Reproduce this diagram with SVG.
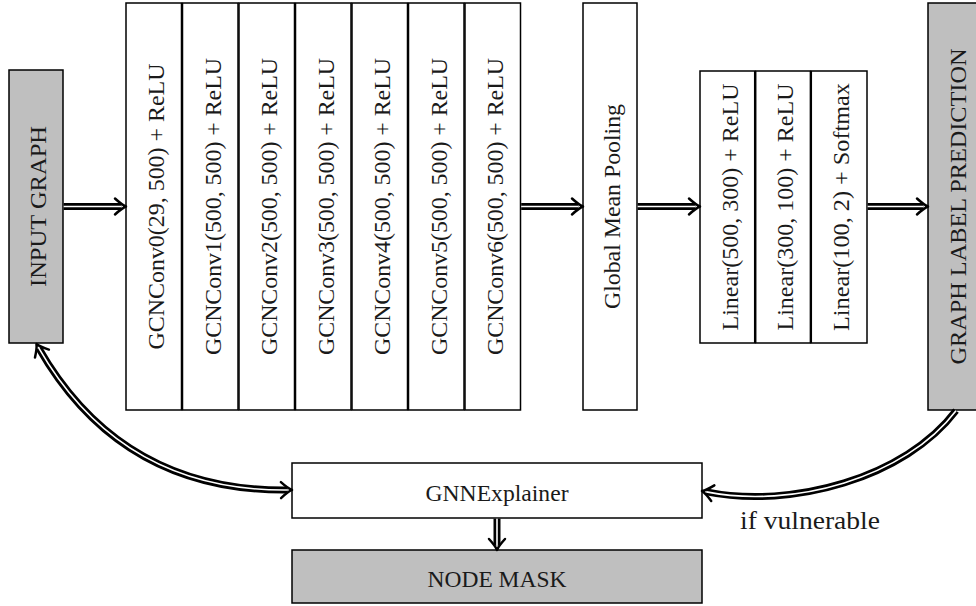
<svg xmlns="http://www.w3.org/2000/svg" width="976" height="606" viewBox="0 0 976 606">
  <style>
    .box { fill: #ffffff; stroke: #000000; stroke-width: 1.5; }
    .box.gray { fill: #bfbfbf; }
    .lbl { font-family: "Liberation Serif", "Times New Roman", serif; font-size: 24px; fill: #1a1a1a; text-anchor: middle; }
    .note { font-family: "Liberation Serif", "Times New Roman", serif; font-size: 25px; fill: #1a1a1a; }
    .dbl-outer { fill: none; stroke: #000000; stroke-width: 7; }
    .dbl-inner { fill: none; stroke: #ffffff; stroke-width: 1.6; }
    .fwd { marker-end: url(#implies); }
    .both { marker-start: url(#implies); marker-end: url(#implies); }
  </style>
  <defs>
    <!-- open "implies" style arrowhead for double lines -->
    <marker id="implies" markerUnits="userSpaceOnUse" orient="auto-start-reverse" refX="-4.5" refY="0" markerWidth="30" markerHeight="30" overflow="visible">
      <path d="M -11,-8 Q -4,-1.6 0,0 Q -4,1.6 -11,8" fill="none" stroke="#000000" stroke-width="2.5" stroke-linecap="round" stroke-linejoin="round"/>
    </marker>
  </defs>

  <!-- input -->
  <g id="input-graph">
    <rect class="box gray" x="9" y="70" width="54" height="273"/>
    <text class="lbl" transform="translate(45.5,206.5) rotate(-90)" textLength="161" lengthAdjust="spacingAndGlyphs">INPUT GRAPH</text>
  </g>

  <!-- GCN convolution stack -->
  <g id="gcnconv0">
    <rect class="box" x="126" y="3" width="55.5" height="407"/>
    <text class="lbl" transform="translate(164,206.5) rotate(-90)" textLength="286" lengthAdjust="spacingAndGlyphs">GCNConv0(29, 500) + ReLU</text>
  </g>
  <g id="gcnconv1">
    <rect class="box" x="182.5" y="3" width="55.5" height="407"/>
    <text class="lbl" transform="translate(220.5,206.5) rotate(-90)" textLength="297" lengthAdjust="spacingAndGlyphs">GCNConv1(500, 500) + ReLU</text>
  </g>
  <g id="gcnconv2">
    <rect class="box" x="239" y="3" width="55.5" height="407"/>
    <text class="lbl" transform="translate(277,206.5) rotate(-90)" textLength="297" lengthAdjust="spacingAndGlyphs">GCNConv2(500, 500) + ReLU</text>
  </g>
  <g id="gcnconv3">
    <rect class="box" x="295.5" y="3" width="55.5" height="407"/>
    <text class="lbl" transform="translate(333.5,206.5) rotate(-90)" textLength="297" lengthAdjust="spacingAndGlyphs">GCNConv3(500, 500) + ReLU</text>
  </g>
  <g id="gcnconv4">
    <rect class="box" x="352" y="3" width="55.5" height="407"/>
    <text class="lbl" transform="translate(390,206.5) rotate(-90)" textLength="297" lengthAdjust="spacingAndGlyphs">GCNConv4(500, 500) + ReLU</text>
  </g>
  <g id="gcnconv5">
    <rect class="box" x="408.5" y="3" width="55.5" height="407"/>
    <text class="lbl" transform="translate(446.5,206.5) rotate(-90)" textLength="297" lengthAdjust="spacingAndGlyphs">GCNConv5(500, 500) + ReLU</text>
  </g>
  <g id="gcnconv6">
    <rect class="box" x="465" y="3" width="55.5" height="407"/>
    <text class="lbl" transform="translate(503,206.5) rotate(-90)" textLength="297" lengthAdjust="spacingAndGlyphs">GCNConv6(500, 500) + ReLU</text>
  </g>

  <!-- pooling -->
  <g id="global-mean-pooling">
    <rect class="box" x="583" y="3" width="54" height="407"/>
    <text class="lbl" transform="translate(619.5,206.5) rotate(-90)" textLength="205" lengthAdjust="spacingAndGlyphs">Global Mean Pooling</text>
  </g>

  <!-- classifier head -->
  <g id="linear0">
    <rect class="box" x="700" y="71" width="54.7" height="272"/>
    <text class="lbl" transform="translate(737.5,207) rotate(-90)" textLength="247" lengthAdjust="spacingAndGlyphs">Linear(500, 300) + ReLU</text>
  </g>
  <g id="linear1">
    <rect class="box" x="755.7" y="71" width="54.7" height="272"/>
    <text class="lbl" transform="translate(793.2,207) rotate(-90)" textLength="247" lengthAdjust="spacingAndGlyphs">Linear(300, 100) + ReLU</text>
  </g>
  <g id="linear2">
    <rect class="box" x="811.3" y="71" width="55.7" height="272"/>
    <text class="lbl" transform="translate(848.8,207) rotate(-90)" textLength="248" lengthAdjust="spacingAndGlyphs">Linear(100, 2) + Softmax</text>
  </g>

  <!-- output -->
  <g id="graph-label-prediction">
    <rect class="box gray" x="928" y="3" width="56" height="407"/>
    <text class="lbl" transform="translate(965.5,206.5) rotate(-90)" textLength="316" lengthAdjust="spacingAndGlyphs">GRAPH LABEL PREDICTION</text>
  </g>

  <!-- explanation -->
  <g id="gnnexplainer">
    <rect class="box" x="292" y="463" width="410" height="55"/>
    <text class="lbl" x="497" y="500.5" textLength="143" lengthAdjust="spacingAndGlyphs">GNNExplainer</text>
  </g>
  <g id="node-mask">
    <rect class="box gray" x="292" y="550" width="410" height="53"/>
    <text class="lbl" x="497" y="587" textLength="139" lengthAdjust="spacingAndGlyphs">NODE MASK</text>
  </g>

  <!-- connectors: double lines with open heads -->
  <g id="connectors">
    <path class="dbl-outer fwd" d="M 63.7,206.5 H 121.5"/>
    <path class="dbl-inner" d="M 63.7,206.5 H 121.5"/>

    <path class="dbl-outer fwd" d="M 521.2,206.5 H 578.5"/>
    <path class="dbl-inner" d="M 521.2,206.5 H 578.5"/>

    <path class="dbl-outer fwd" d="M 637.7,206.5 H 695.5"/>
    <path class="dbl-inner" d="M 637.7,206.5 H 695.5"/>

    <path class="dbl-outer fwd" d="M 867.7,206.5 H 923.5"/>
    <path class="dbl-inner" d="M 867.7,206.5 H 923.5"/>

    <path class="dbl-outer fwd" d="M 497,518.7 V 545.5"/>
    <path class="dbl-inner" d="M 497,518.7 V 545.5"/>

    <path class="dbl-outer both" d="M 38.7,347.9 C 100,455 190,491 287.5,490"/>
    <path class="dbl-inner" d="M 38.7,347.9 C 100,455 190,491 287.5,490"/>

    <path class="dbl-outer fwd" d="M 956,410.7 C 905,478 792,509 706.4,491.9"/>
    <path class="dbl-inner" d="M 956,410.7 C 905,478 792,509 706.4,491.9"/>

    <text class="note" x="740" y="529" textLength="140" lengthAdjust="spacingAndGlyphs">if vulnerable</text>
  </g>
</svg>
